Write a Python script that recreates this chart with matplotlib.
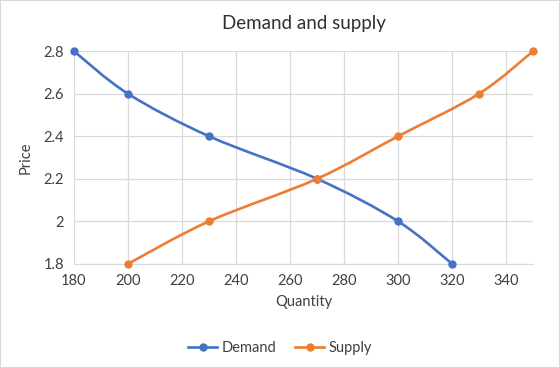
import numpy as np
import matplotlib
matplotlib.use("Agg")
import matplotlib.pyplot as plt
from matplotlib.path import Path
from matplotlib.patches import PathPatch, Rectangle
from matplotlib.lines import Line2D

plt.rcParams['font.family'] = ['Lato', 'DejaVu Sans']

demand_q = [180, 200, 230, 270, 300, 320]
demand_p = [2.8, 2.6, 2.4, 2.2, 2.0, 1.8]
supply_q = [200, 230, 270, 300, 330, 350]
supply_p = [1.8, 2.0, 2.2, 2.4, 2.6, 2.8]

blue = "#4472C4"
orange = "#ED7D31"


# Excel-style smoothed line: cubic bezier through the points (Catmull-Rom)
def smooth_path(xs, ys):
    pts = np.column_stack([xs, ys]).astype(float)
    verts = [pts[0]]
    codes = [Path.MOVETO]
    n = len(pts)
    for i in range(n - 1):
        p0 = pts[i - 1] if i > 0 else pts[i]
        p1 = pts[i]
        p2 = pts[i + 1]
        p3 = pts[i + 2] if i + 2 < n else pts[i + 1]
        c1 = p1 + (p2 - p0) / 6
        c2 = p2 - (p3 - p1) / 6
        verts += [c1, c2, p2]
        codes += [Path.CURVE4] * 3
    return Path(verts, codes)


fig = plt.figure(figsize=(5.6, 3.68), dpi=100)
ax = fig.add_axes([0.132, 0.283, 0.820, 0.578])

for xs, ys, c in [(demand_q, demand_p, blue), (supply_q, supply_p, orange)]:
    ax.add_patch(PathPatch(smooth_path(xs, ys), facecolor="none", edgecolor=c, lw=1.9,
                           zorder=3, clip_on=False))
    ax.plot(xs, ys, "o", color=c, ms=5, zorder=4, clip_on=False)

ax.set_xlim(180, 350)
ax.set_ylim(1.8, 2.8)
ax.set_xticks(range(180, 341, 20))
ax.set_yticks([1.8, 2.0, 2.2, 2.4, 2.6, 2.8])
ax.set_yticklabels(["1.8", "2", "2.2", "2.4", "2.6", "2.8"])
ax.grid(True, color="#D9D9D9", lw=0.9)
ax.set_axisbelow(True)
for s in ["top", "right", "left"]:
    ax.spines[s].set_visible(False)
ax.spines["bottom"].set_color("#D9D9D9")
ax.tick_params(length=0, labelsize=10.5, colors="#404040", pad=7)
ax.set_xlabel("Quantity", fontsize=10.5, color="#404040", labelpad=5)
ax.set_ylabel("Price", fontsize=10.5, color="#404040", labelpad=8)
ax.set_title("Demand and supply", fontsize=13.5, color="#303030", pad=16)

handles = [Line2D([], [], color=blue, marker="o", ms=5, lw=1.9),
           Line2D([], [], color=orange, marker="o", ms=5, lw=1.9)]
fig.legend(handles, ["Demand", "Supply"], loc="center", bbox_to_anchor=(0.5, 0.055),
           ncol=2, frameon=False, fontsize=10.5, handlelength=2.0, handletextpad=0.3,
           columnspacing=1.3, labelcolor="#404040")

fig.patches.append(Rectangle((0, 0), 1, 1, transform=fig.transFigure, fill=False,
                             edgecolor="#D9D9D9", lw=1.5))

fig.savefig("out.png", dpi=100)
